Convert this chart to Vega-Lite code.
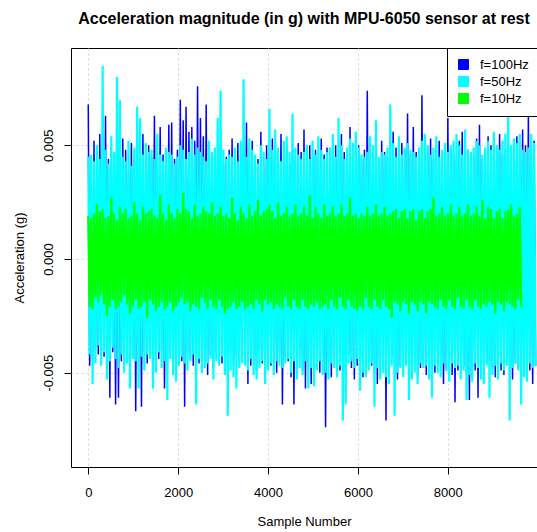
{
"$schema": "https://vega.github.io/schema/vega-lite/v6.json",
"autosize": {"type": "none"},
"padding": {"left": 71, "top": 48, "right": 0, "bottom": 65},
"width": 466,
"height": 419,
"title": {"text": "Acceleration magnitude (in g) with MPU-6050 sensor at rest", "font": "Liberation Sans", "fontSize": 16, "fontWeight": "bold", "color": "black", "anchor": "middle", "offset": 21},
"data": {"values": [
{"x":0,"a":68e-4,"b":45e-4,"c":19e-4},{"x":32,"a":-47e-4,"b":-42e-4,"c":-21e-4},{"x":64,"a":41e-4,"b":46e-4,"c":18e-4},{"x":96,"a":-44e-4,"b":-55e-4,"c":-22e-4},
{"x":128,"a":52e-4,"b":43e-4,"c":20e-4},{"x":160,"a":-39e-4,"b":-46e-4,"c":-17e-4},{"x":192,"a":47e-4,"b":50e-4,"c":24e-4},{"x":224,"a":-42e-4,"b":-38e-4,"c":-19e-4},
{"x":256,"a":55e-4,"b":44e-4,"c":21e-4},{"x":288,"a":-40e-4,"b":-47e-4,"c":-16e-4},{"x":320,"a":45e-4,"b":85e-4,"c":22e-4},{"x":352,"a":-43e-4,"b":-41e-4,"c":-20e-4},
{"x":384,"a":63e-4,"b":48e-4,"c":18e-4},{"x":416,"a":-38e-4,"b":-53e-4,"c":-25e-4},{"x":448,"a":44e-4,"b":42e-4,"c":19e-4},{"x":480,"a":-61e-4,"b":-45e-4,"c":-21e-4},
{"x":512,"a":49e-4,"b":54e-4,"c":27e-4},{"x":544,"a":-41e-4,"b":-39e-4,"c":-18e-4},{"x":576,"a":42e-4,"b":47e-4,"c":20e-4},{"x":608,"a":-64e-4,"b":-44e-4,"c":-22e-4},
{"x":640,"a":46e-4,"b":80e-4,"c":17e-4},{"x":672,"a":-61e-4,"b":-48e-4,"c":-21e-4},{"x":704,"a":40e-4,"b":70e-4,"c":23e-4},{"x":736,"a":-45e-4,"b":-42e-4,"c":-19e-4},
{"x":768,"a":53e-4,"b":45e-4,"c":20e-4},{"x":800,"a":-39e-4,"b":-50e-4,"c":-16e-4},{"x":832,"a":48e-4,"b":43e-4,"c":22e-4},{"x":864,"a":-43e-4,"b":-46e-4,"c":-20e-4},
{"x":896,"a":38e-4,"b":52e-4,"c":18e-4},{"x":928,"a":-46e-4,"b":-57e-4,"c":-24e-4},{"x":960,"a":51e-4,"b":41e-4,"c":19e-4},{"x":992,"a":-40e-4,"b":-44e-4,"c":-21e-4},
{"x":1024,"a":44e-4,"b":49e-4,"c":25e-4},{"x":1056,"a":-67e-4,"b":-45e-4,"c":-18e-4},{"x":1088,"a":42e-4,"b":67e-4,"c":20e-4},{"x":1120,"a":-44e-4,"b":-57e-4,"c":-22e-4},
{"x":1152,"a":47e-4,"b":62e-4,"c":17e-4},{"x":1184,"a":-65e-4,"b":-43e-4,"c":-21e-4},{"x":1216,"a":55e-4,"b":46e-4,"c":23e-4},{"x":1248,"a":-41e-4,"b":-49e-4,"c":-19e-4},
{"x":1280,"a":43e-4,"b":51e-4,"c":20e-4},{"x":1312,"a":-46e-4,"b":-42e-4,"c":-26e-4},{"x":1344,"a":50e-4,"b":47e-4,"c":21e-4},{"x":1376,"a":-38e-4,"b":-44e-4,"c":-18e-4},
{"x":1408,"a":45e-4,"b":48e-4,"c":22e-4},{"x":1440,"a":-42e-4,"b":-57e-4,"c":-20e-4},{"x":1472,"a":63e-4,"b":44e-4,"c":19e-4},{"x":1504,"a":-47e-4,"b":-50e-4,"c":-23e-4},
{"x":1536,"a":41e-4,"b":55e-4,"c":18e-4},{"x":1568,"a":-44e-4,"b":-41e-4,"c":-21e-4},{"x":1600,"a":58e-4,"b":46e-4,"c":28e-4},{"x":1632,"a":-40e-4,"b":-48e-4,"c":-19e-4},
{"x":1664,"a":46e-4,"b":43e-4,"c":20e-4},{"x":1696,"a":-57e-4,"b":-45e-4,"c":-22e-4},{"x":1728,"a":43e-4,"b":49e-4,"c":17e-4},{"x":1760,"a":-45e-4,"b":-62e-4,"c":-21e-4},
{"x":1792,"a":59e-4,"b":47e-4,"c":24e-4},{"x":1824,"a":-42e-4,"b":-44e-4,"c":-19e-4},{"x":1856,"a":60e-4,"b":46e-4,"c":20e-4},{"x":1888,"a":-46e-4,"b":-51e-4,"c":-23e-4},
{"x":1920,"a":44e-4,"b":42e-4,"c":18e-4},{"x":1952,"a":-39e-4,"b":-54e-4,"c":-21e-4},{"x":1984,"a":48e-4,"b":45e-4,"c":22e-4},{"x":2016,"a":-43e-4,"b":-47e-4,"c":-19e-4},
{"x":2048,"a":70e-4,"b":50e-4,"c":20e-4},{"x":2080,"a":-45e-4,"b":-43e-4,"c":-17e-4},{"x":2112,"a":61e-4,"b":48e-4,"c":29e-4},{"x":2144,"a":-65e-4,"b":-46e-4,"c":-20e-4},
{"x":2176,"a":67e-4,"b":44e-4,"c":22e-4},{"x":2208,"a":-41e-4,"b":-49e-4,"c":-19e-4},{"x":2240,"a":56e-4,"b":47e-4,"c":21e-4},{"x":2272,"a":-44e-4,"b":-45e-4,"c":-23e-4},
{"x":2304,"a":58e-4,"b":53e-4,"c":18e-4},{"x":2336,"a":-47e-4,"b":-42e-4,"c":-20e-4},{"x":2368,"a":52e-4,"b":46e-4,"c":24e-4},{"x":2400,"a":-43e-4,"b":-64e-4,"c":-21e-4},
{"x":2432,"a":76e-4,"b":49e-4,"c":19e-4},{"x":2464,"a":-46e-4,"b":-44e-4,"c":-22e-4},{"x":2496,"a":62e-4,"b":47e-4,"c":20e-4},{"x":2528,"a":-40e-4,"b":-50e-4,"c":-17e-4},
{"x":2560,"a":54e-4,"b":45e-4,"c":23e-4},{"x":2592,"a":-45e-4,"b":-48e-4,"c":-19e-4},{"x":2624,"a":68e-4,"b":43e-4,"c":21e-4},{"x":2656,"a":-51e-4,"b":-46e-4,"c":-22e-4},
{"x":2688,"a":49e-4,"b":52e-4,"c":20e-4},{"x":2720,"a":-42e-4,"b":-44e-4,"c":-18e-4},{"x":2752,"a":46e-4,"b":47e-4,"c":25e-4},{"x":2784,"a":-48e-4,"b":-53e-4,"c":-21e-4},
{"x":2816,"a":43e-4,"b":49e-4,"c":19e-4},{"x":2848,"a":-41e-4,"b":-45e-4,"c":-22e-4},{"x":2880,"a":47e-4,"b":62e-4,"c":20e-4},{"x":2912,"a":-44e-4,"b":-47e-4,"c":-18e-4},
{"x":2944,"a":50e-4,"b":74e-4,"c":23e-4},{"x":2976,"a":-46e-4,"b":-43e-4,"c":-21e-4},{"x":3008,"a":42e-4,"b":48e-4,"c":19e-4},{"x":3040,"a":-49e-4,"b":-51e-4,"c":-24e-4},
{"x":3072,"a":45e-4,"b":44e-4,"c":20e-4},{"x":3104,"a":-43e-4,"b":-69e-4,"c":-22e-4},{"x":3136,"a":48e-4,"b":46e-4,"c":18e-4},{"x":3168,"a":-40e-4,"b":-49e-4,"c":-21e-4},
{"x":3200,"a":53e-4,"b":45e-4,"c":27e-4},{"x":3232,"a":-47e-4,"b":-52e-4,"c":-19e-4},{"x":3264,"a":44e-4,"b":49e-4,"c":20e-4},{"x":3296,"a":-42e-4,"b":-57e-4,"c":-22e-4},
{"x":3328,"a":51e-4,"b":43e-4,"c":17e-4},{"x":3360,"a":-45e-4,"b":-48e-4,"c":-21e-4},{"x":3392,"a":46e-4,"b":52e-4,"c":23e-4},{"x":3424,"a":-41e-4,"b":-46e-4,"c":-19e-4},
{"x":3456,"a":49e-4,"b":79e-4,"c":20e-4},{"x":3488,"a":-44e-4,"b":-47e-4,"c":-22e-4},{"x":3520,"a":60e-4,"b":45e-4,"c":18e-4},{"x":3552,"a":-55e-4,"b":-49e-4,"c":-21e-4},
{"x":3584,"a":43e-4,"b":53e-4,"c":24e-4},{"x":3616,"a":-47e-4,"b":-44e-4,"c":-20e-4},{"x":3648,"a":52e-4,"b":48e-4,"c":19e-4},{"x":3680,"a":-42e-4,"b":-51e-4,"c":-22e-4},
{"x":3712,"a":45e-4,"b":46e-4,"c":21e-4},{"x":3744,"a":-49e-4,"b":-53e-4,"c":-18e-4},{"x":3776,"a":44e-4,"b":42e-4,"c":26e-4},{"x":3808,"a":-40e-4,"b":-48e-4,"c":-20e-4},
{"x":3840,"a":56e-4,"b":50e-4,"c":19e-4},{"x":3872,"a":-46e-4,"b":-45e-4,"c":-23e-4},{"x":3904,"a":41e-4,"b":47e-4,"c":21e-4},{"x":3936,"a":-48e-4,"b":-55e-4,"c":-18e-4},
{"x":3968,"a":50e-4,"b":44e-4,"c":22e-4},{"x":4000,"a":-43e-4,"b":-49e-4,"c":-20e-4},{"x":4032,"a":45e-4,"b":66e-4,"c":24e-4},{"x":4064,"a":-47e-4,"b":-46e-4,"c":-19e-4},
{"x":4096,"a":53e-4,"b":48e-4,"c":21e-4},{"x":4128,"a":-42e-4,"b":-51e-4,"c":-22e-4},{"x":4160,"a":44e-4,"b":57e-4,"c":18e-4},{"x":4192,"a":-50e-4,"b":-45e-4,"c":-20e-4},
{"x":4224,"a":47e-4,"b":49e-4,"c":25e-4},{"x":4256,"a":-41e-4,"b":-47e-4,"c":-21e-4},{"x":4288,"a":55e-4,"b":43e-4,"c":19e-4},{"x":4320,"a":-64e-4,"b":-48e-4,"c":-22e-4},
{"x":4352,"a":46e-4,"b":52e-4,"c":20e-4},{"x":4384,"a":-43e-4,"b":-46e-4,"c":-17e-4},{"x":4416,"a":49e-4,"b":54e-4,"c":23e-4},{"x":4448,"a":-45e-4,"b":-44e-4,"c":-21e-4},
{"x":4480,"a":42e-4,"b":47e-4,"c":19e-4},{"x":4512,"a":-52e-4,"b":-50e-4,"c":-22e-4},{"x":4544,"a":48e-4,"b":64e-4,"c":20e-4},{"x":4576,"a":-64e-4,"b":-45e-4,"c":-18e-4},
{"x":4608,"a":44e-4,"b":49e-4,"c":24e-4},{"x":4640,"a":-46e-4,"b":-53e-4,"c":-21e-4},{"x":4672,"a":51e-4,"b":46e-4,"c":19e-4},{"x":4704,"a":-40e-4,"b":-48e-4,"c":-22e-4},
{"x":4736,"a":47e-4,"b":44e-4,"c":20e-4},{"x":4768,"a":-49e-4,"b":-51e-4,"c":-18e-4},{"x":4800,"a":57e-4,"b":47e-4,"c":23e-4},{"x":4832,"a":-57e-4,"b":-45e-4,"c":-21e-4},
{"x":4864,"a":43e-4,"b":50e-4,"c":19e-4},{"x":4896,"a":-46e-4,"b":-57e-4,"c":-22e-4},{"x":4928,"a":50e-4,"b":44e-4,"c":28e-4},{"x":4960,"a":-55e-4,"b":-48e-4,"c":-20e-4},
{"x":4992,"a":45e-4,"b":52e-4,"c":18e-4},{"x":5024,"a":-42e-4,"b":-56e-4,"c":-21e-4},{"x":5056,"a":48e-4,"b":46e-4,"c":23e-4},{"x":5088,"a":-47e-4,"b":-49e-4,"c":-19e-4},
{"x":5120,"a":44e-4,"b":54e-4,"c":20e-4},{"x":5152,"a":-50e-4,"b":-45e-4,"c":-22e-4},{"x":5184,"a":53e-4,"b":48e-4,"c":18e-4},{"x":5216,"a":-43e-4,"b":-51e-4,"c":-21e-4},
{"x":5248,"a":46e-4,"b":44e-4,"c":24e-4},{"x":5280,"a":-74e-4,"b":-50e-4,"c":-20e-4},{"x":5312,"a":49e-4,"b":47e-4,"c":19e-4},{"x":5344,"a":-45e-4,"b":-53e-4,"c":-22e-4},
{"x":5376,"a":42e-4,"b":49e-4,"c":20e-4},{"x":5408,"a":-52e-4,"b":-46e-4,"c":-18e-4},{"x":5440,"a":47e-4,"b":55e-4,"c":23e-4},{"x":5472,"a":-44e-4,"b":-48e-4,"c":-21e-4},
{"x":5504,"a":50e-4,"b":45e-4,"c":19e-4},{"x":5536,"a":-46e-4,"b":-52e-4,"c":-22e-4},{"x":5568,"a":43e-4,"b":62e-4,"c":20e-4},{"x":5600,"a":-49e-4,"b":-47e-4,"c":-17e-4},
{"x":5632,"a":55e-4,"b":50e-4,"c":24e-4},{"x":5664,"a":-45e-4,"b":-71e-4,"c":-21e-4},{"x":5696,"a":47e-4,"b":44e-4,"c":19e-4},{"x":5728,"a":-51e-4,"b":-64e-4,"c":-22e-4},
{"x":5760,"a":44e-4,"b":49e-4,"c":20e-4},{"x":5792,"a":-42e-4,"b":-46e-4,"c":-18e-4},{"x":5824,"a":58e-4,"b":53e-4,"c":27e-4},{"x":5856,"a":-48e-4,"b":-45e-4,"c":-21e-4},
{"x":5888,"a":45e-4,"b":51e-4,"c":19e-4},{"x":5920,"a":-53e-4,"b":-48e-4,"c":-22e-4},{"x":5952,"a":41e-4,"b":56e-4,"c":20e-4},{"x":5984,"a":-47e-4,"b":-44e-4,"c":-23e-4},
{"x":6016,"a":50e-4,"b":49e-4,"c":18e-4},{"x":6048,"a":-46e-4,"b":-58e-4,"c":-21e-4},{"x":6080,"a":44e-4,"b":46e-4,"c":20e-4},{"x":6112,"a":-52e-4,"b":-50e-4,"c":-22e-4},
{"x":6144,"a":48e-4,"b":45e-4,"c":19e-4},{"x":6176,"a":-43e-4,"b":-52e-4,"c":-17e-4},{"x":6208,"a":74e-4,"b":47e-4,"c":23e-4},{"x":6240,"a":-45e-4,"b":-49e-4,"c":-21e-4},
{"x":6272,"a":51e-4,"b":54e-4,"c":19e-4},{"x":6304,"a":-47e-4,"b":-46e-4,"c":-22e-4},{"x":6336,"a":44e-4,"b":50e-4,"c":20e-4},{"x":6368,"a":-50e-4,"b":-65e-4,"c":-18e-4},
{"x":6400,"a":46e-4,"b":61e-4,"c":24e-4},{"x":6432,"a":-55e-4,"b":-48e-4,"c":-21e-4},{"x":6464,"a":43e-4,"b":45e-4,"c":19e-4},{"x":6496,"a":-49e-4,"b":-53e-4,"c":-22e-4},
{"x":6528,"a":52e-4,"b":47e-4,"c":20e-4},{"x":6560,"a":-44e-4,"b":-50e-4,"c":-18e-4},{"x":6592,"a":47e-4,"b":46e-4,"c":23e-4},{"x":6624,"a":-71e-4,"b":-52e-4,"c":-21e-4},
{"x":6656,"a":45e-4,"b":49e-4,"c":19e-4},{"x":6688,"a":-48e-4,"b":-55e-4,"c":-22e-4},{"x":6720,"a":50e-4,"b":68e-4,"c":20e-4},{"x":6752,"a":-43e-4,"b":-47e-4,"c":-26e-4},
{"x":6784,"a":56e-4,"b":51e-4,"c":21e-4},{"x":6816,"a":-46e-4,"b":-69e-4,"c":-19e-4},{"x":6848,"a":49e-4,"b":45e-4,"c":22e-4},{"x":6880,"a":-53e-4,"b":-50e-4,"c":-20e-4},
{"x":6912,"a":44e-4,"b":54e-4,"c":18e-4},{"x":6944,"a":-47e-4,"b":-48e-4,"c":-23e-4},{"x":6976,"a":51e-4,"b":46e-4,"c":21e-4},{"x":7008,"a":-45e-4,"b":-52e-4,"c":-19e-4},
{"x":7040,"a":48e-4,"b":49e-4,"c":22e-4},{"x":7072,"a":-42e-4,"b":-47e-4,"c":-20e-4},{"x":7104,"a":64e-4,"b":51e-4,"c":18e-4},{"x":7136,"a":-50e-4,"b":-62e-4,"c":-24e-4},
{"x":7168,"a":46e-4,"b":48e-4,"c":21e-4},{"x":7200,"a":-49e-4,"b":-53e-4,"c":-19e-4},{"x":7232,"a":58e-4,"b":47e-4,"c":22e-4},{"x":7264,"a":-44e-4,"b":-50e-4,"c":-20e-4},
{"x":7296,"a":47e-4,"b":45e-4,"c":17e-4},{"x":7328,"a":-52e-4,"b":-55e-4,"c":-23e-4},{"x":7360,"a":45e-4,"b":49e-4,"c":21e-4},{"x":7392,"a":-48e-4,"b":-46e-4,"c":-19e-4},
{"x":7424,"a":72e-4,"b":52e-4,"c":22e-4},{"x":7456,"a":-46e-4,"b":-48e-4,"c":-20e-4},{"x":7488,"a":43e-4,"b":55e-4,"c":18e-4},{"x":7520,"a":-51e-4,"b":-47e-4,"c":-24e-4},
{"x":7552,"a":49e-4,"b":50e-4,"c":21e-4},{"x":7584,"a":-45e-4,"b":-53e-4,"c":-19e-4},{"x":7616,"a":53e-4,"b":46e-4,"c":22e-4},{"x":7648,"a":-47e-4,"b":-61e-4,"c":-20e-4},
{"x":7680,"a":44e-4,"b":49e-4,"c":27e-4},{"x":7712,"a":-50e-4,"b":-47e-4,"c":-21e-4},{"x":7744,"a":48e-4,"b":54e-4,"c":19e-4},{"x":7776,"a":-46e-4,"b":-50e-4,"c":-22e-4},
{"x":7808,"a":52e-4,"b":45e-4,"c":20e-4},{"x":7840,"a":-43e-4,"b":-52e-4,"c":-18e-4},{"x":7872,"a":47e-4,"b":48e-4,"c":23e-4},{"x":7904,"a":-55e-4,"b":-46e-4,"c":-21e-4},
{"x":7936,"a":45e-4,"b":51e-4,"c":19e-4},{"x":7968,"a":-49e-4,"b":-49e-4,"c":-22e-4},{"x":8000,"a":62e-4,"b":47e-4,"c":20e-4},{"x":8032,"a":-44e-4,"b":-54e-4,"c":-18e-4},
{"x":8064,"a":48e-4,"b":50e-4,"c":24e-4},{"x":8096,"a":-51e-4,"b":-46e-4,"c":-21e-4},{"x":8128,"a":46e-4,"b":52e-4,"c":19e-4},{"x":8160,"a":-63e-4,"b":-48e-4,"c":-22e-4},
{"x":8192,"a":43e-4,"b":55e-4,"c":20e-4},{"x":8224,"a":-49e-4,"b":-47e-4,"c":-17e-4},{"x":8256,"a":52e-4,"b":50e-4,"c":23e-4},{"x":8288,"a":-45e-4,"b":-53e-4,"c":-21e-4},
{"x":8320,"a":56e-4,"b":46e-4,"c":19e-4},{"x":8352,"a":-47e-4,"b":-49e-4,"c":-22e-4},{"x":8384,"a":44e-4,"b":57e-4,"c":20e-4},{"x":8416,"a":-50e-4,"b":-62e-4,"c":-18e-4},
{"x":8448,"a":48e-4,"b":48e-4,"c":24e-4},{"x":8480,"a":-62e-4,"b":-51e-4,"c":-21e-4},{"x":8512,"a":46e-4,"b":47e-4,"c":19e-4},{"x":8544,"a":-52e-4,"b":-54e-4,"c":-22e-4},
{"x":8576,"a":45e-4,"b":49e-4,"c":20e-4},{"x":8608,"a":-49e-4,"b":-46e-4,"c":-18e-4},{"x":8640,"a":53e-4,"b":52e-4,"c":23e-4},{"x":8672,"a":-61e-4,"b":-48e-4,"c":-21e-4},
{"x":8704,"a":59e-4,"b":50e-4,"c":19e-4},{"x":8736,"a":-47e-4,"b":-53e-4,"c":-22e-4},{"x":8768,"a":44e-4,"b":46e-4,"c":26e-4},{"x":8800,"a":-51e-4,"b":-55e-4,"c":-20e-4},
{"x":8832,"a":48e-4,"b":49e-4,"c":18e-4},{"x":8864,"a":-46e-4,"b":-47e-4,"c":-21e-4},{"x":8896,"a":54e-4,"b":52e-4,"c":23e-4},{"x":8928,"a":-45e-4,"b":-61e-4,"c":-19e-4},
{"x":8960,"a":50e-4,"b":48e-4,"c":22e-4},{"x":8992,"a":-48e-4,"b":-51e-4,"c":-20e-4},{"x":9024,"a":43e-4,"b":56e-4,"c":18e-4},{"x":9056,"a":-52e-4,"b":-47e-4,"c":-24e-4},
{"x":9088,"a":47e-4,"b":50e-4,"c":21e-4},{"x":9120,"a":-45e-4,"b":-53e-4,"c":-19e-4},{"x":9152,"a":55e-4,"b":48e-4,"c":22e-4},{"x":9184,"a":-49e-4,"b":-46e-4,"c":-20e-4},
{"x":9216,"a":46e-4,"b":52e-4,"c":18e-4},{"x":9248,"a":-51e-4,"b":-49e-4,"c":-23e-4},{"x":9280,"a":48e-4,"b":55e-4,"c":21e-4},{"x":9312,"a":-44e-4,"b":-47e-4,"c":-19e-4},
{"x":9344,"a":52e-4,"b":65e-4,"c":22e-4},{"x":9376,"a":-47e-4,"b":-71e-4,"c":-20e-4},{"x":9408,"a":45e-4,"b":50e-4,"c":24e-4},{"x":9440,"a":-53e-4,"b":-48e-4,"c":-21e-4},
{"x":9472,"a":49e-4,"b":53e-4,"c":19e-4},{"x":9504,"a":-46e-4,"b":-46e-4,"c":-22e-4},{"x":9536,"a":54e-4,"b":51e-4,"c":20e-4},{"x":9568,"a":-48e-4,"b":-49e-4,"c":-18e-4},
{"x":9600,"a":45e-4,"b":55e-4,"c":23e-4},{"x":9632,"a":-51e-4,"b":-64e-4,"c":-21e-4},{"x":9664,"a":57e-4,"b":48e-4},{"x":9696,"a":-47e-4,"b":-52e-4},
{"x":9728,"a":50e-4,"b":47e-4},{"x":9760,"a":-46e-4,"b":-54e-4},{"x":9792,"a":63e-4,"b":49e-4},{"x":9824,"a":-49e-4,"b":-46e-4},
{"x":9856,"a":45e-4,"b":55e-4},{"x":9888,"a":-55e-4,"b":-48e-4},{"x":9920,"a":52e-4,"b":51e-4},{"x":9952,"a":-47e-4,"b":-47e-4}
]},
"encoding": {
  "x": {"field": "x", "type": "quantitative", "scale": {"domain": [-384, 9984], "nice": false, "zero": false},
        "axis": {"title": "Sample Number", "values": [0, 2000, 4000, 6000, 8000], "format": "d", "labelPadding": 12, "titlePadding": 16}}
},
"layer": [
  {"mark": {"type": "line", "strokeWidth": 1.5, "clip": true},
   "encoding": {
     "y": {"field": "a", "type": "quantitative", "scale": {"domain": [-0.00915, 0.00928], "nice": false, "zero": false},
           "axis": {"title": "Acceleration (g)", "values": [-0.005, 0, 0.005], "labelExpr": "replace(format(datum.value, '.3f'), '\u2212', '-')", "labelAngle": -90, "labelAlign": "center", "labelBaseline": "alphabetic", "labelPadding": 12, "titlePadding": 16}},
     "color": {"datum": "f=100Hz", "type": "nominal", "scale": {"domain": ["f=100Hz", "f=50Hz", "f=10Hz"], "range": ["#0000ff", "#00ffff", "#00ff00"]},
               "legend": {"title": null, "orient": "none", "legendX": 376, "legendY": 0, "symbolType": "square", "symbolSize": 100, "labelFont": "Liberation Sans", "labelFontSize": 13, "labelColor": "black", "padding": 10, "strokeColor": "black", "fillColor": "white", "rowPadding": 2, "labelOffset": 10,
                 "encode": {"symbols": {"update": {"fill": {"scale": "color", "field": "value"}, "stroke": {"value": "black"}, "strokeWidth": {"value": 1}, "opacity": {"value": 1}}}}}}
   }},
  {"mark": {"type": "line", "strokeWidth": 2.2, "clip": true},
   "encoding": {"y": {"field": "b", "type": "quantitative"}, "color": {"datum": "f=50Hz", "type": "nominal"}}},
  {"mark": {"type": "line", "strokeWidth": 2.2, "clip": true},
   "encoding": {"y": {"field": "c", "type": "quantitative"}, "color": {"datum": "f=10Hz", "type": "nominal"}}}
],
"config": {
  "view": {"stroke": "black", "strokeWidth": 1},
  "font": "Liberation Sans",
  "axis": {"zindex": 1, "domain": false, "grid": true, "gridColor": "#d3d3d3", "gridDash": [2, 3], "gridWidth": 1, "tickColor": "black", "tickSize": 7, "labelFont": "Liberation Sans", "labelFontSize": 13, "labelColor": "black", "titleFont": "Liberation Sans", "titleFontSize": 13, "titleFontWeight": "normal", "titleColor": "black"}
}
}
